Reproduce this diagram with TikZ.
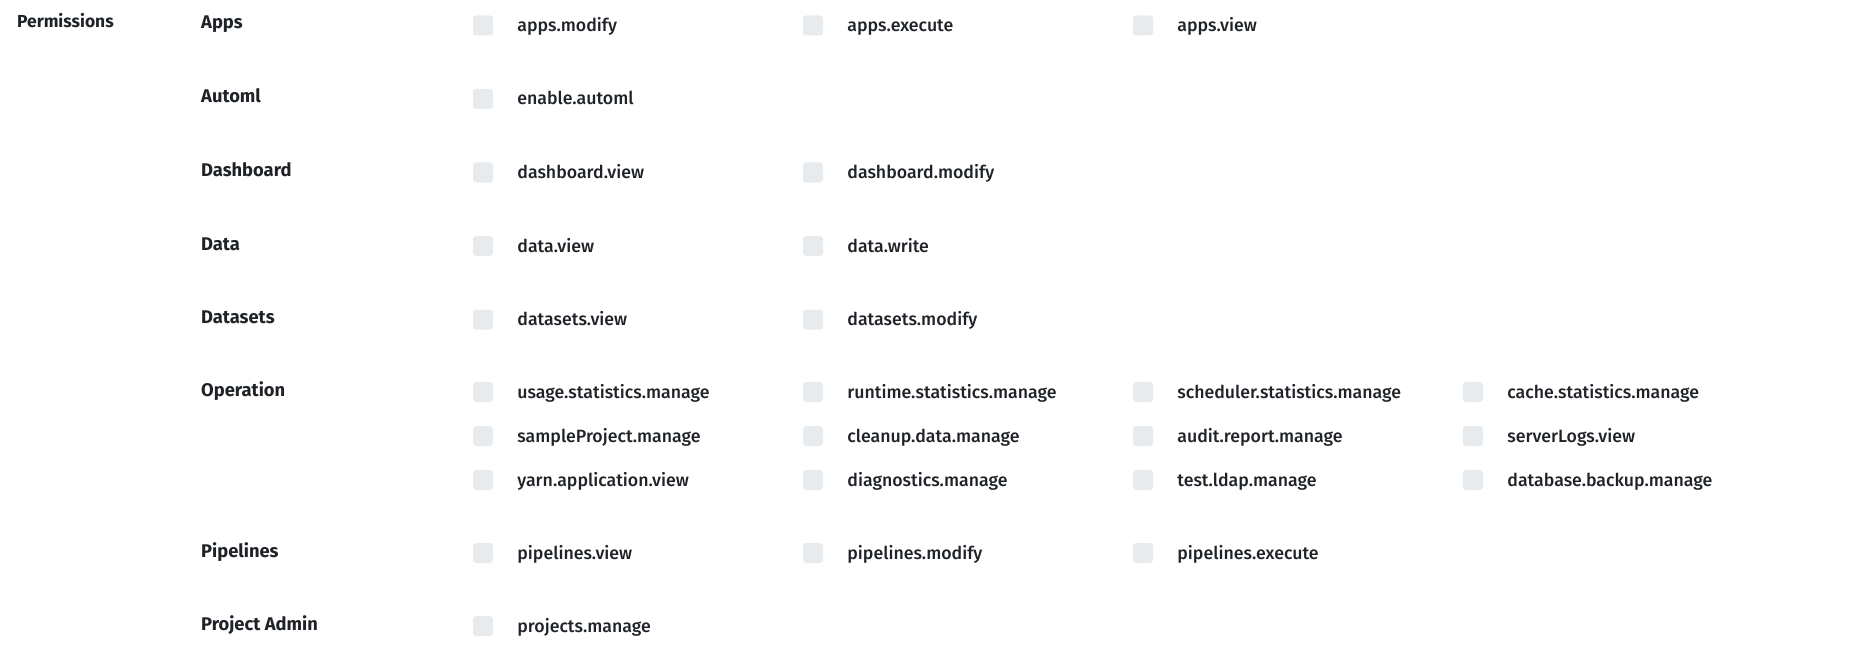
\documentclass[tikz,border=0pt]{standalone}
\usepackage{fontspec}
\setmainfont{Fira Sans}
\newfontfamily\medfont{Fira Sans Medium}
\usepackage{xcolor}
\usetikzlibrary{positioning}
\definecolor{txtdark}{HTML}{1F2328}
\definecolor{boxgray}{HTML}{E8EBEE}
\tikzset{
  chk/.style={rectangle, rounded corners=3bp, fill=boxgray, minimum width=20bp, minimum height=20bp, inner sep=0},
  perm/.style={inner sep=0, text height=14bp, text depth=2bp, text=txtdark, font=\medfont\fontsize{17.8}{20}\selectfont},
  grp/.style={anchor=base west, inner sep=0, text=txtdark, font=\bfseries\fontsize{18.4}{21}\selectfont},
}
\begin{document}
\begin{tikzpicture}[x=1bp, y=-1bp]
            \useasboundingbox (0,0) rectangle (1849,649);
            % Titulo
            \node at (17,28) (perms) [anchor=base west, inner sep=0, text=txtdark, font=\bfseries\fontsize{17.5}{20}\selectfont] {Permissions};
            % Apps
            \node at (201,29) (gapps) [grp] {Apps};
            \node at (483,25.5) (c1) [chk] {};
            \node [perm, right=24bp of c1] (p1) {apps.modify};
            \node at (813,25.5) (c2) [chk] {};
            \node [perm, right=24bp of c2] (p2) {apps.execute};
            \node at (1143,25.5) (c3) [chk] {};
            \node [perm, right=24bp of c3] (p3) {apps.view};
            % Automl
            \node at (201,103) (gautoml) [grp] {Automl};
            \node at (483,99) (c4) [chk] {};
            \node [perm, right=24bp of c4] (p4) {enable.automl};
            % Dashboard
            \node at (201,176.5) (gdash) [grp] {Dashboard};
            \node at (483,172.5) (c5) [chk] {};
            \node [perm, right=24bp of c5] (p5) {dashboard.view};
            \node at (813,172.5) (c6) [chk] {};
            \node [perm, right=24bp of c6] (p6) {dashboard.modify};
            % Data
            \node at (201,250) (gdata) [grp] {Data};
            \node at (483,246) (c7) [chk] {};
            \node [perm, right=24bp of c7] (p7) {data.view};
            \node at (813,246) (c8) [chk] {};
            \node [perm, right=24bp of c8] (p8) {data.write};
            % Datasets
            \node at (201,323.5) (gdatasets) [grp] {Datasets};
            \node at (483,319.5) (c9) [chk] {};
            \node [perm, right=24bp of c9] (p9) {datasets.view};
            \node at (813,319.5) (c10) [chk] {};
            \node [perm, right=24bp of c10] (p10) {datasets.modify};
            % Operation
            \node at (201,396) (gop) [grp] {Operation};
            \node at (483,392) (c11) [chk] {};
            \node [perm, right=24bp of c11] (p11) {usage.statistics.manage};
            \node at (813,392) (c12) [chk] {};
            \node [perm, right=24bp of c12] (p12) {runtime.statistics.manage};
            \node at (1143,392) (c13) [chk] {};
            \node [perm, right=24bp of c13] (p13) {scheduler.statistics.manage};
            \node at (1473,392) (c14) [chk] {};
            \node [perm, right=24bp of c14] (p14) {cache.statistics.manage};
            \node at (483,436) (c15) [chk] {};
            \node [perm, right=24bp of c15] (p15) {sampleProject.manage};
            \node at (813,436) (c16) [chk] {};
            \node [perm, right=24bp of c16] (p16) {cleanup.data.manage};
            \node at (1143,436) (c17) [chk] {};
            \node [perm, right=24bp of c17] (p17) {audit.report.manage};
            \node at (1473,436) (c18) [chk] {};
            \node [perm, right=24bp of c18] (p18) {serverLogs.view};
            \node at (483,480) (c19) [chk] {};
            \node [perm, right=24bp of c19] (p19) {yarn.application.view};
            \node at (813,480) (c20) [chk] {};
            \node [perm, right=24bp of c20] (p20) {diagnostics.manage};
            \node at (1143,480) (c21) [chk] {};
            \node [perm, right=24bp of c21] (p21) {test.ldap.manage};
            \node at (1473,480) (c22) [chk] {};
            \node [perm, right=24bp of c22] (p22) {database.backup.manage};
            % Pipelines
            \node at (201,557) (gpipe) [grp] {Pipelines};
            \node at (483,553) (c23) [chk] {};
            \node [perm, right=24bp of c23] (p23) {pipelines.view};
            \node at (813,553) (c24) [chk] {};
            \node [perm, right=24bp of c24] (p24) {pipelines.modify};
            \node at (1143,553) (c25) [chk] {};
            \node [perm, right=24bp of c25] (p25) {pipelines.execute};
            % Project Admin
            \node at (201,630) (gadmin) [grp] {Project Admin};
            \node at (483,626) (c26) [chk] {};
            \node [perm, right=24bp of c26] (p26) {projects.manage};
        \end{tikzpicture}
\end{document}
